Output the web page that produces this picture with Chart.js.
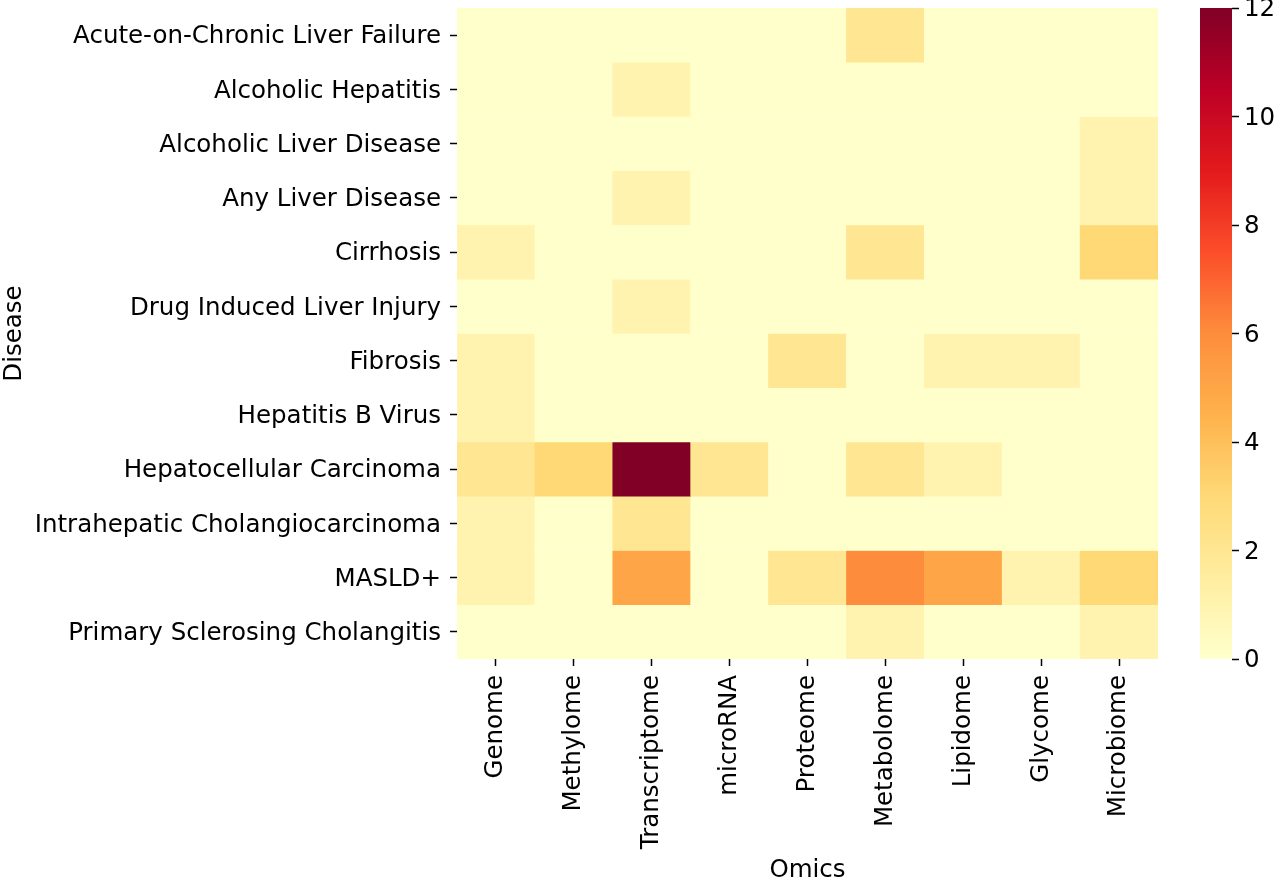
<!DOCTYPE html>
<html>
<head>
<meta charset="utf-8">
<script src="https://cdn.jsdelivr.net/npm/chart.js@4/dist/chart.umd.min.js"></script>
<style>
  html, body { margin: 0; padding: 0; background: #fff; }
  #wrap { position: relative; width: 1280px; height: 880px; }
  #heat { position: absolute; left: 0; top: 0; }
  #cbar { position: absolute; left: 1190px; top: 0; }
</style>
</head>
<body>
<div id="wrap">
  <canvas id="heat" width="1280" height="880"></canvas>
  <canvas id="cbar" width="90" height="880"></canvas>
</div>
<script>
// ── Data ────────────────────────────────────────────────────────────
const omics = ['Genome', 'Methylome', 'Transcriptome', 'microRNA', 'Proteome',
               'Metabolome', 'Lipidome', 'Glycome', 'Microbiome'];

const diseases = [
    'Acute-on-Chronic Liver Failure', 'Alcoholic Hepatitis', 'Alcoholic Liver Disease',
    'Any Liver Disease', 'Cirrhosis', 'Drug Induced Liver Injury', 'Fibrosis',
    'Hepatitis B Virus', 'Hepatocellular Carcinoma', 'Intrahepatic Cholangiocarcinoma',
    'MASLD+', 'Primary Sclerosing Cholangitis'
];

// one row per disease, columns follow `omics`
const counts = [
    [0, 0, 0, 0, 0, 2, 0, 0, 0],
    [0, 0, 1, 0, 0, 0, 0, 0, 0],
    [0, 0, 0, 0, 0, 0, 0, 0, 1],
    [0, 0, 1, 0, 0, 0, 0, 0, 1],
    [1, 0, 0, 0, 0, 2, 0, 0, 3],
    [0, 0, 1, 0, 0, 0, 0, 0, 0],
    [1, 0, 0, 0, 2, 0, 1, 1, 0],
    [1, 0, 0, 0, 0, 0, 0, 0, 0],
    [2, 3, 12, 2, 0, 2, 1, 0, 0],
    [1, 0, 2, 0, 0, 0, 0, 0, 0],
    [1, 0, 5, 0, 2, 6, 5, 1, 3],
    [0, 0, 0, 0, 0, 1, 0, 0, 1]
];

const colorTicks = [0, 2, 4, 6, 8, 10, 12];
const vmin = 0, vmax = 12;

// ── YlOrRd colormap ────────────────────────────────────────────────
const ylOrRd = ['#ffffcc', '#ffeda0', '#fed976', '#feb24c', '#fd8d3c',
                '#fc4e2a', '#e31a1c', '#bd0026', '#800026'];

function hexToRgb(h) {
    return [parseInt(h.slice(1, 3), 16), parseInt(h.slice(3, 5), 16), parseInt(h.slice(5, 7), 16)];
}

function colorFor(v) {
    let t = (v - vmin) / (vmax - vmin);
    t = Math.max(0, Math.min(1, t));
    const pos = t * (ylOrRd.length - 1);
    const i = Math.min(Math.floor(pos), ylOrRd.length - 2);
    const f = pos - i;
    const a = hexToRgb(ylOrRd[i]), b = hexToRgb(ylOrRd[i + 1]);
    const c = a.map((x, k) => Math.round(x + (b[k] - x) * f));
    return `rgb(${c[0]},${c[1]},${c[2]})`;
}

Chart.defaults.font.family = "'DejaVu Sans', sans-serif";
Chart.defaults.font.size = 24.5;
Chart.defaults.color = '#000';

// strip the label overhang Chart.js adds above/below the plot
const noVertPad = s => { s.paddingTop = 0; s.paddingBottom = 0; };

// ── Heatmap ────────────────────────────────────────────────────────
const datasets = diseases.map((d, r) => ({
    label: d,
    data: omics.map(() => [r - 0.5, r + 0.5]),
    backgroundColor: counts[r].map(colorFor),
    borderWidth: 0,
    barPercentage: 1,
    categoryPercentage: 1,
    grouped: false
}));

new Chart(document.getElementById('heat'), {
    type: 'bar',
    data: { labels: omics, datasets },
    options: {
        responsive: false,
        devicePixelRatio: 1,
        animation: false,
        layout: { padding: { top: 8, right: 122, left: 0, bottom: 0 } },
        plugins: { legend: { display: false }, tooltip: { enabled: false } },
        scales: {
            x: {
                type: 'category',
                grid: { offset: false, drawOnChartArea: false, tickLength: 7, tickColor: '#000', tickWidth: 1.5 },
                border: { display: false },
                ticks: { minRotation: 90, maxRotation: 90, padding: 9, color: '#000' },
                title: { display: true, text: 'Omics', padding: { top: 0, bottom: -5 } },
                afterFit: s => { s.height = 221; s.paddingLeft = 0; s.paddingRight = 0; }
            },
            y: {
                type: 'linear',
                min: -0.5, max: 11.5,
                reverse: true,
                afterBuildTicks: s => { s.ticks = diseases.map((d, i) => ({ value: i })); },
                grid: { drawOnChartArea: false, tickLength: 7, tickColor: '#000', tickWidth: 1.5 },
                border: { display: false },
                ticks: { padding: 9, labelOffset: 2, color: '#000', callback: v => diseases[v] },
                title: { display: true, text: 'Disease', padding: { top: 0, bottom: 0 } },
                afterFit: s => { s.width = 457; noVertPad(s); }
            }
        }
    }
});

// ── Colorbar ───────────────────────────────────────────────────────
new Chart(document.getElementById('cbar'), {
    type: 'bar',
    data: {
        labels: [''],
        datasets: [{
            data: [[vmin, vmax]],
            borderWidth: 0,
            barPercentage: 1,
            categoryPercentage: 1,
            backgroundColor: ctx => {
                const area = ctx.chart.chartArea;
                if (!area) return ylOrRd[0];
                const g = ctx.chart.ctx.createLinearGradient(0, area.bottom, 0, area.top);
                ylOrRd.forEach((c, i) => g.addColorStop(i / (ylOrRd.length - 1), c));
                return g;
            }
        }]
    },
    options: {
        responsive: false,
        devicePixelRatio: 1,
        animation: false,
        layout: { padding: { top: 8, left: 10, right: 0, bottom: 221 } },
        plugins: { legend: { display: false }, tooltip: { enabled: false } },
        scales: {
            x: { display: false },
            y: {
                position: 'right',
                min: vmin, max: vmax,
                afterBuildTicks: s => { s.ticks = colorTicks.map(v => ({ value: v })); },
                grid: { drawOnChartArea: false, tickLength: 7, tickColor: '#000', tickWidth: 1.5 },
                border: { display: false },
                ticks: { padding: 5, labelOffset: 2, color: '#000' },
                afterFit: s => { s.width = 48; noVertPad(s); }
            }
        }
    }
});
</script>
</body>
</html>
